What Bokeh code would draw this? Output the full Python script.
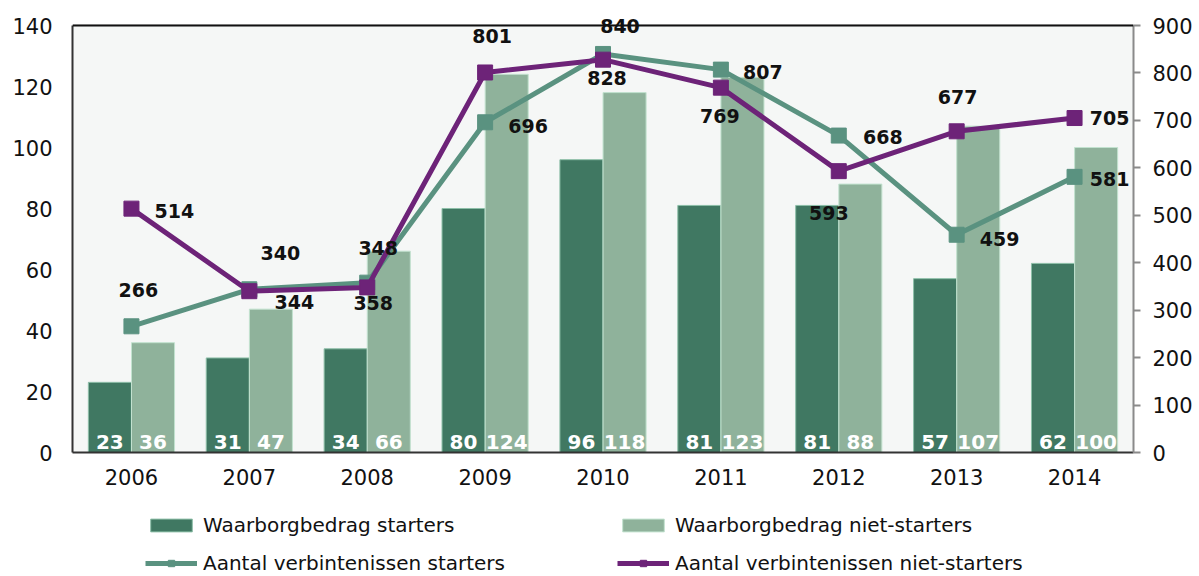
from bokeh.plotting import figure
from bokeh.layouts import column
from bokeh.models import (Range1d, LinearAxis, FixedTicker, ColumnDataSource,
                          Legend, LegendItem, Span, BoxAnnotation)
from bokeh.transform import dodge
from bokeh.core.properties import value
from bokeh.embed import file_html
from bokeh.resources import INLINE

years = ["2006", "2007", "2008", "2009", "2010", "2011", "2012", "2013", "2014"]
amount_starters = [23, 31, 34, 80, 96, 81, 81, 57, 62]
amount_nonstarters = [36, 47, 66, 124, 118, 123, 88, 107, 100]
count_starters = [266, 344, 358, 696, 840, 807, 668, 459, 581]
count_nonstarters = [514, 340, 348, 801, 828, 769, 593, 677, 705]

left_ticks = [0, 20, 40, 60, 80, 100, 120, 140]
right_ticks = [0, 100, 200, 300, 400, 500, 600, 700, 800, 900]

# label placement offsets (screen px, y downward)
off_cs_x = [7, 45, 6, 43, 17, 42, 44, 43, 35]
off_cs_y = [-36, 13, 20, 4, -28, 2, 1, 4, 2]
off_cn_x = [43, 31, 11, 7, 4, -1, -10, 1, 35]
off_cn_y = [2, -38, -39, -36, 18, 28, 42, -34, 0]

FONT_NAME = "DejaVu Sans"
FONT = value(FONT_NAME)
C_BAR1 = "#407862"
C_BAR2 = "#8fb29b"
C_TEAL = "#5a9280"
C_PURPLE = "#6d2378"
W = 1195

# head room above the axes' top so labels may overlap the top border
HEAD = 13.0 / 427.0
L_TOP = left_ticks[-1] * (1 + HEAD)
R_TOP = right_ticks[-1] * (1 + HEAD)

src = ColumnDataSource(dict(
    year=years,
    a_s=amount_starters, a_n=amount_nonstarters,
    c_s=count_starters, c_n=count_nonstarters,
    a_s_txt=[str(v) for v in amount_starters],
    a_n_txt=[str(v) for v in amount_nonstarters],
    c_s_txt=[str(v) for v in count_starters],
    c_n_txt=[str(v) for v in count_nonstarters],
    cs_dx=off_cs_x, cs_dy=off_cs_y, cn_dx=off_cn_x, cn_dy=off_cn_y,
))

p = figure(x_range=years, y_range=Range1d(0, L_TOP),
           width=W, height=500, output_backend="svg", toolbar_location=None,
           min_border_left=72, min_border_right=61, min_border_top=12,
           min_border_bottom=48)
p.extra_y_ranges = {"right": Range1d(0, R_TOP)}

p.background_fill_color = "white"
p.border_fill_color = "white"
p.outline_line_color = None
p.add_layout(BoxAnnotation(bottom=0, top=left_ticks[-1], fill_color="#f5f7f6",
                           fill_alpha=1, line_color=None, level="underlay"))
p.xgrid.grid_line_color = None
p.ygrid.grid_line_color = "#9a9a9a"
p.ygrid.grid_line_width = 1.5
p.ygrid.ticker = FixedTicker(ticks=left_ticks)

# left axis
p.yaxis.ticker = FixedTicker(ticks=left_ticks)
p.yaxis.bounds = (left_ticks[0], left_ticks[-1])
p.yaxis.major_tick_line_color = None
p.yaxis.major_tick_out = 0
p.yaxis.minor_tick_line_color = None
p.yaxis.axis_line_color = "#333333"
p.yaxis.axis_line_width = 2
p.yaxis.major_label_text_font = FONT_NAME
p.yaxis.major_label_text_font_size = "21px"
p.yaxis.major_label_text_color = "#111111"
p.yaxis.major_label_standoff = 20

# right axis
ra = LinearAxis(y_range_name="right", ticker=FixedTicker(ticks=right_ticks),
                bounds=(right_ticks[0], right_ticks[-1]))
ra.axis_line_color = "#8a8a8a"
ra.axis_line_width = 2
ra.major_tick_line_color = "#8a8a8a"
ra.major_tick_line_width = 2
ra.major_tick_out = 7
ra.major_tick_in = 0
ra.minor_tick_line_color = None
ra.major_label_text_font = FONT_NAME
ra.major_label_text_font_size = "21px"
ra.major_label_text_color = "#111111"
ra.major_label_standoff = 12
p.add_layout(ra, "right")

# bottom axis
p.xaxis.major_tick_line_color = None
p.xaxis.major_tick_out = 0
p.xaxis.axis_line_color = "#333333"
p.xaxis.axis_line_width = 2
p.xaxis.major_label_text_font = FONT_NAME
p.xaxis.major_label_text_font_size = "21px"
p.xaxis.major_label_text_color = "#111111"
p.xaxis.major_label_standoff = 16

# top border
p.add_layout(Span(location=left_ticks[-1], dimension="width",
                  line_color="#111111", line_width=2))

bw = 0.365
bar1_style = dict(fill_color=C_BAR1, line_color="#8dbfa8", line_width=1)
bar2_style = dict(fill_color=C_BAR2, line_color="#c2e2cf", line_width=1)
p.vbar(x=dodge("year", -0.183, range=p.x_range), top="a_s", width=bw,
       source=src, **bar1_style)
p.vbar(x=dodge("year", 0.183, range=p.x_range), top="a_n", width=bw,
       source=src, **bar2_style)

bar_txt = dict(text_font=FONT, text_font_style="bold", text_font_size="20px",
               text_color="white", text_align="center", text_baseline="bottom",
               y_offset=-4)
p.text(x=dodge("year", -0.183, range=p.x_range), y=0, text="a_s_txt",
       source=src, **bar_txt)
p.text(x=dodge("year", 0.183, range=p.x_range), y=0, text="a_n_txt",
       source=src, **bar_txt)

line1_style = dict(line_color=C_TEAL, line_width=5)
line2_style = dict(line_color=C_PURPLE, line_width=5)
mark1_style = dict(marker="square", size=15, fill_color=C_TEAL, line_color=C_TEAL)
mark2_style = dict(marker="square", size=15, fill_color=C_PURPLE, line_color=C_PURPLE)

p.line(x="year", y="c_s", source=src, y_range_name="right", **line1_style)
p.scatter(x="year", y="c_s", source=src, y_range_name="right", **mark1_style)
p.line(x="year", y="c_n", source=src, y_range_name="right", **line2_style)
p.scatter(x="year", y="c_n", source=src, y_range_name="right", **mark2_style)

lab = dict(text_font=FONT, text_font_style="bold", text_font_size="19px",
           text_color="#111111", text_align="center", text_baseline="middle")
p.text(x="year", y="c_s", text="c_s_txt", source=src, y_range_name="right",
       x_offset="cs_dx", y_offset="cs_dy", **lab)
p.text(x="year", y="c_n", text="c_n_txt", source=src, y_range_name="right",
       x_offset="cn_dx", y_offset="cn_dy", **lab)

# legend strip below the chart (proxy glyphs carry no drawable data)
q = figure(width=W, height=76, x_range=Range1d(0, 1), y_range=Range1d(0, 1),
           output_backend="svg", toolbar_location=None,
           min_border=0, min_border_left=0, min_border_right=0,
           min_border_top=0, min_border_bottom=0)
q.axis.visible = False
q.grid.visible = False
q.outline_line_color = None
q.background_fill_color = "white"
q.border_fill_color = "white"
NAN = [float("nan")]
g1 = q.vbar(x=NAN, top=NAN, width=0.1, **bar1_style)
g2 = q.vbar(x=NAN, top=NAN, width=0.1, **bar2_style)
h1 = q.line(x=NAN, y=NAN, **line1_style)
k1 = q.scatter(x=NAN, y=NAN, **mark1_style)
h2 = q.line(x=NAN, y=NAN, **line2_style)
k2 = q.scatter(x=NAN, y=NAN, **mark2_style)

leg_style = dict(label_text_font=FONT_NAME, label_text_font_size="20px",
                 label_text_color="#111111", glyph_width=52, glyph_height=16,
                 label_height=24, label_standoff=6, padding=0, margin=0,
                 spacing=14, border_line_color=None, background_fill_alpha=0)
leg1 = Legend(items=[LegendItem(label="Waarborgbedrag starters", renderers=[g1]),
                     LegendItem(label="Aantal verbintenissen starters", renderers=[h1, k1])],
              location=(73, 1), **leg_style)
leg2 = Legend(items=[LegendItem(label="Waarborgbedrag niet-starters", renderers=[g2]),
                     LegendItem(label="Aantal verbintenissen niet-starters", renderers=[h2, k2])],
              location=(545, 1), **leg_style)
q.add_layout(leg1, "center")
q.add_layout(leg2, "center")

open("out.html", "w").write(file_html(column(p, q, spacing=0), INLINE))
